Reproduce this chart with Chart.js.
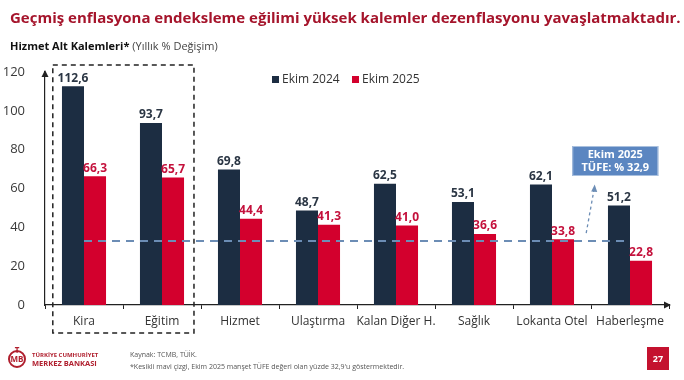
<!DOCTYPE html>
<html><head><meta charset="utf-8">
<script src="https://cdn.jsdelivr.net/npm/chart.js@4/dist/chart.umd.min.js"></script>
<style>
html,body{margin:0;padding:0;background:#fff;}
#wrap{position:relative;width:684px;height:380px;}
canvas{position:absolute;left:0;top:0;}
</style></head>
<body><div id="wrap"><canvas id="c" width="684" height="380"></canvas></div>
<script>
const categories = ["Kira","Eğitim","Hizmet","Ulaştırma","Kalan Diğer H.","Sağlık","Lokanta Otel","Haberleşme"];
const ekim2024 = [112.6,93.7,69.8,48.7,62.5,53.1,62.1,51.2];
const ekim2025 = [66.3,65.7,44.4,41.3,41.0,36.6,33.8,22.8];
const tufe2025 = 32.9;
const yTicks = [0,20,40,60,80,100,120];
const seriesNames = ["Ekim 2024","Ekim 2025"];

const DARK = "#1c2d42", RED = "#d3002d", LRED = "#c4113c", TITLE = "#a5142b";
const FONT = "'Open Sans', 'Noto Sans', sans-serif";
const fmt = v => v.toFixed(1).replace(".", ",");

const deco = {
  id: "deco",
  afterDatasetsDraw(chart) {
    const ctx = chart.ctx, xs = chart.scales.x, ys = chart.scales.y, ca = chart.chartArea;
    ctx.save();
    // data labels
    ctx.font = "bold 12px " + FONT;
    ctx.textAlign = "center"; ctx.textBaseline = "bottom";
    chart.data.datasets.forEach((ds, di) => {
      const meta = chart.getDatasetMeta(di);
      meta.data.forEach((bar, i) => {
        ctx.fillStyle = di === 0 ? "#2b3644" : LRED;
        ctx.fillText(fmt(ds.data[i]), bar.x, bar.y - 2);
      });
    });
    // dashed TÜFE line
    const cw = xs.getPixelForValue(1) - xs.getPixelForValue(0);
    const yl = ys.getPixelForValue(tufe2025);
    ctx.strokeStyle = "#6c8db5"; ctx.lineWidth = 2; ctx.setLineDash([8, 6]);
    ctx.beginPath(); ctx.moveTo(xs.getPixelForValue(0), yl); ctx.lineTo(xs.getPixelForValue(7), yl); ctx.stroke();
    // dashed box around Kira, Eğitim
    ctx.strokeStyle = "#222"; ctx.lineWidth = 1.5; ctx.setLineDash([5, 4]);
    const bx0 = xs.getPixelForValue(0) - 0.4 * cw, bx1 = xs.getPixelForValue(1) + 0.41 * cw;
    ctx.strokeRect(bx0, ca.top - 7, bx1 - bx0, ca.bottom - ca.top + 35);
    // annotation arrow
    const ax0 = xs.getPixelForValue(6) + 0.4 * cw + 3, ay0 = ys.getPixelForValue(37);
    const ax1 = ax0 + 8, ay1 = ys.getPixelForValue(60);
    ctx.strokeStyle = "#6c8db5"; ctx.lineWidth = 1.3; ctx.setLineDash([3, 3]);
    ctx.beginPath(); ctx.moveTo(ax0, ay0); ctx.lineTo(ax1, ay1); ctx.stroke();
    ctx.setLineDash([]); ctx.fillStyle = "#6c8db5";
    ctx.beginPath(); ctx.moveTo(ax1 + 0.5, ay1 - 4); ctx.lineTo(ax1 - 3, ay1 + 3); ctx.lineTo(ax1 + 3, ay1 + 3.5); ctx.closePath(); ctx.fill();
    // annotation box
    const bxl = xs.getPixelForValue(6) + 0.26 * cw;
    ctx.fillStyle = "#5b86c1"; ctx.fillRect(bxl, 146, 86, 30);
    ctx.strokeStyle = "#a9c0de"; ctx.lineWidth = 1; ctx.strokeRect(bxl + 0.5, 146.5, 85, 29);
    ctx.fillStyle = "#fff"; ctx.font = "bold 11px " + FONT; ctx.textBaseline = "middle";
    ctx.fillText("Ekim 2025", bxl + 43, 155); ctx.fillText("TÜFE: % 32,9", bxl + 43, 168);
    // axis arrows
    ctx.fillStyle = "#222";
    ctx.beginPath(); ctx.moveTo(ca.left, ca.top - 2); ctx.lineTo(ca.left - 3.5, ca.top + 5); ctx.lineTo(ca.left + 3.5, ca.top + 5); ctx.closePath(); ctx.fill();
    ctx.beginPath(); ctx.moveTo(ca.right + 2, ca.bottom); ctx.lineTo(ca.right - 5, ca.bottom - 3.5); ctx.lineTo(ca.right - 5, ca.bottom + 3.5); ctx.closePath(); ctx.fill();
    ctx.restore();
  },
  afterDraw(chart) {
    const ctx = chart.ctx;
    ctx.save();
    ctx.textBaseline = "alphabetic"; ctx.textAlign = "left";
    ctx.fillStyle = TITLE; ctx.font = "bold 15px " + FONT;
    ctx.fillText("Geçmiş enflasyona endeksleme eğilimi yüksek kalemler dezenflasyonu yavaşlatmaktadır.", 10, 23);
    ctx.fillStyle = "#111"; ctx.font = "bold 11px " + FONT;
    const s1 = "Hizmet Alt Kalemleri*";
    ctx.fillText(s1, 10, 50);
    const w1 = ctx.measureText(s1).width;
    ctx.fillStyle = "#444"; ctx.font = "11px " + FONT;
    ctx.fillText(" (Yıllık % Değişim)", 10 + w1, 50);
    // legend
    ctx.font = "12px " + FONT; ctx.textBaseline = "middle";
    let lx = 272;
    seriesNames.forEach((n, i) => {
      ctx.fillStyle = i === 0 ? DARK : RED;
      ctx.fillRect(lx, 76, 7, 7);
      ctx.fillStyle = "#333";
      ctx.fillText(n, lx + 10, 80);
      lx += 80;
    });
    // footer
    ctx.textBaseline = "alphabetic";
    ctx.strokeStyle = "#b01f2e"; ctx.lineWidth = 2;
    ctx.beginPath(); ctx.arc(17, 359, 8, 0, Math.PI * 2); ctx.stroke();
    ctx.fillStyle = "#b01f2e"; ctx.font = "bold 8px " + FONT; ctx.textAlign = "center";
    ctx.fillText("MB", 17, 362);
    ctx.fillText("T", 17, 353);
    ctx.textAlign = "left"; ctx.font = "bold 6px " + FONT;
    ctx.fillText("TÜRKİYE CUMHURİYET", 32, 357);
    ctx.font = "bold 7.5px " + FONT;
    ctx.fillText("MERKEZ BANKASI", 32, 366);
    ctx.fillStyle = "#555"; ctx.font = "7px " + FONT;
    ctx.fillText("Kaynak: TCMB, TÜİK.", 130, 357);
    ctx.fillText("*Kesikli mavi çizgi, Ekim 2025 manşet TÜFE değeri olan yüzde 32,9'u göstermektedir.", 130, 369);
    ctx.fillStyle = "#c4122f"; ctx.fillRect(647, 347, 22, 23);
    ctx.fillStyle = "#fff"; ctx.font = "bold 9px " + FONT; ctx.textAlign = "center";
    ctx.fillText("27", 658, 362);
    ctx.restore();
  }
};

new Chart(document.getElementById("c"), {
  type: "bar",
  data: {
    labels: categories,
    datasets: [
      { label: seriesNames[0], data: ekim2024, backgroundColor: DARK },
      { label: seriesNames[1], data: ekim2025, backgroundColor: RED }
    ]
  },
  options: {
    responsive: false, animation: false,
    layout: { padding: { top: 72, right: 15, left: 0, bottom: 0 } },
    datasets: { bar: { categoryPercentage: 0.565, barPercentage: 1 } },
    plugins: { legend: { display: false }, tooltip: { enabled: false } },
    scales: {
      x: {
        grid: { display: true, drawOnChartArea: false, drawTicks: true, tickLength: 4, color: "#222", offset: true },
        border: { display: true, color: "#222", width: 1.2 },
        ticks: { color: "#333", font: { family: FONT, size: 12 }, padding: 5, autoSkip: false, maxRotation: 0 },
        afterFit: s => { s.height = 75; }
      },
      y: {
        min: 0, max: 120,
        afterBuildTicks: s => { s.ticks = yTicks.map(v => ({ value: v })); },
        grid: { display: false },
        border: { display: true, color: "#222", width: 1.2 },
        ticks: { color: "#3a3a3a", font: { family: FONT, size: 13 }, padding: 12 },
        afterFit: s => { s.width = 45; }
      }
    }
  },
  plugins: [deco]
});
</script></body></html>
